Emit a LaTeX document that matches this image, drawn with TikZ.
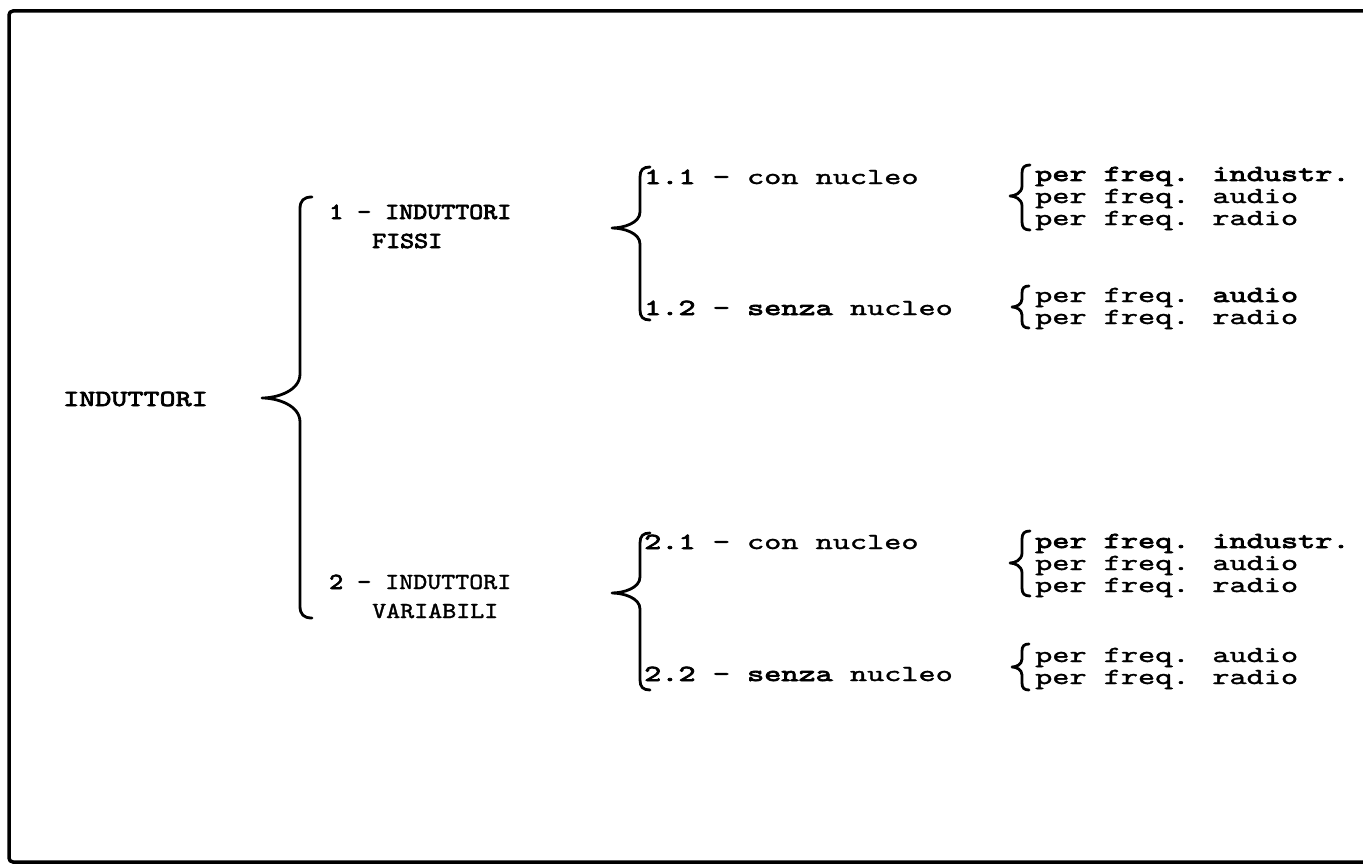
\documentclass[tikz,border=0pt]{standalone}
\usepackage{fontspec}
\newfontfamily\twa{lmmono10-regular.otf}[FakeStretch=1.42, UprightFeatures={FakeBold=1.4}, BoldFont=lmmono10-regular.otf, BoldFeatures={FakeBold=3.2}]
\newfontfamily\twb{lmmono10-regular.otf}[FakeStretch=1.16, UprightFeatures={FakeBold=1.4}, BoldFont=lmmono10-regular.otf, BoldFeatures={FakeBold=3.2}]
\newfontfamily\twc{lmmono10-regular.otf}[FakeStretch=1.33, UprightFeatures={FakeBold=1.4}, BoldFont=lmmono10-regular.otf, BoldFeatures={FakeBold=3.2}]
\newcommand{\mybrace}[7]{% x, ytop, xtip, ytip, ybot, curl, tiplen
\draw[brc] ({#1+#6},#2) .. controls ({#1+0.3*#6},#2) and (#1,{#2+0.3*#6}) .. (#1,{#2+#6})
 -- (#1,{#4-#7}) .. controls (#1,{#4-0.3*#7}) and ({#3+0.4*(#1-#3)},#4) .. (#3,#4)
 .. controls ({#3+0.4*(#1-#3)},#4) and (#1,{#4+0.3*#7}) .. (#1,{#4+#7})
 -- (#1,{#5-#6}) .. controls (#1,{#5-0.3*#6}) and ({#1+0.3*#6},#5) .. ({#1+#6},#5);}
\begin{document}
\begin{tikzpicture}[x=1pt,y=-1pt,
  txt/.style={anchor=base west, inner sep=0pt, font=\twa\fontsize{23}{25}\selectfont},
  lvlone/.style={txt, font=\twb\fontsize{23}{25}\selectfont},
  rootlbl/.style={txt, font=\twc\fontsize{23}{25}\selectfont},
  brc/.style={line width=2.8pt, line cap=round, line join=round}]
\useasboundingbox (0,0) rectangle (1363,864);
\draw[line width=3.5pt, rounded corners=4pt] (1363,11) -- (9,11) -- (9,862) -- (1363,862);

% level 0
\node[rootlbl] (root) at (63,406) {\textbf{INDUTTORI}};
\mybrace{300}{197}{262}{398}{618}{12}{24}

% level 1
\node[lvlone] (n1) at (329,219) {\textbf{1 - INDUTTORI}};
\node[lvlone] (n1b) at (372,248) {\textbf{FISSI}};
\node[lvlone] (n2) at (329,589) {\textbf{2 -} INDUTTORI};
\node[lvlone] (n2b) at (372,618) {VARIABILI};

% level 2
\mybrace{640}{167}{612}{228}{320}{10}{16}
\node[txt] (n11) at (644,184) {\textbf{1.1 -} con nucleo};
\node[txt] (n12) at (644,315) {\textbf{1.2 - senza} nucleo};
\mybrace{640}{533}{612}{593}{690}{10}{16}
\node[txt] (n21) at (644,549) {\textbf{2.1 -} con nucleo};
\node[txt] (n22) at (644,681) {\textbf{2.2 - senza} nucleo};

% level 3
\mybrace{1022}{165}{1010}{196}{230}{8}{10}
\node[txt] (a1) at (1035,181) {\textbf{per freq. industr.}};
\node[txt] (a2) at (1035,203) {per freq. audio};
\node[txt] (a3) at (1035,225) {per freq. radio};

\mybrace{1022}{286}{1012}{307}{328}{7}{8}
\node[txt] (b1) at (1035,302) {per freq. \textbf{audio}};
\node[txt] (b2) at (1035,324) {per freq. radio};

\mybrace{1022}{531}{1010}{563}{596}{8}{10}
\node[txt] (c1) at (1035,548) {\textbf{per freq. industr.}};
\node[txt] (c2) at (1035,570) {per freq. audio};
\node[txt] (c3) at (1035,592) {per freq. radio};

\mybrace{1022}{644}{1012}{667}{690}{7}{8}
\node[txt] (d1) at (1035,662) {per freq. audio};
\node[txt] (d2) at (1035,684) {per freq. radio};
\end{tikzpicture}
\end{document}
